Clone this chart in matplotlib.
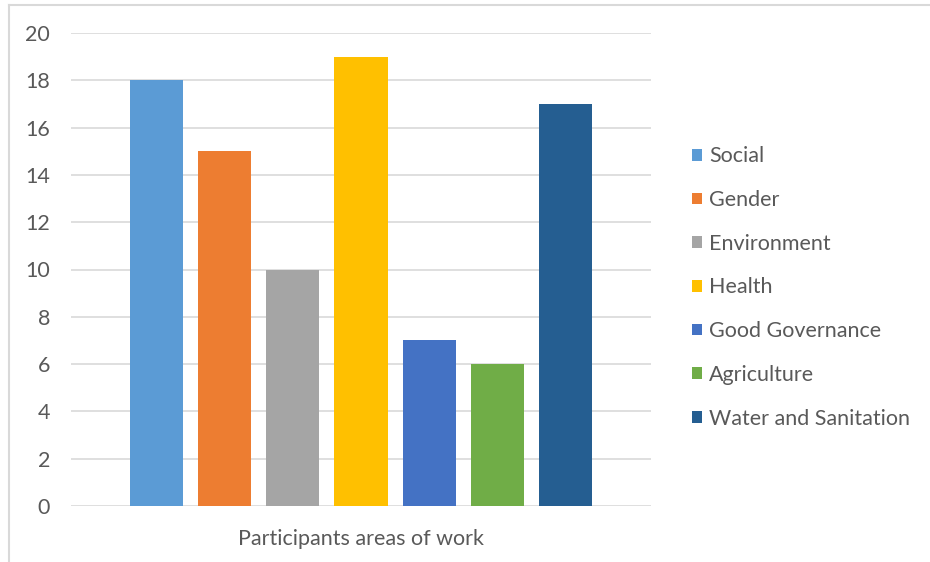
import matplotlib
matplotlib.use("Agg")
import matplotlib.pyplot as plt
from matplotlib.lines import Line2D

# data
categories = ["Social", "Gender", "Environment", "Health",
              "Good Governance", "Agriculture", "Water and Sanitation"]
counts = [18, 15, 10, 19, 7, 6, 17]
colors = ["#5B9BD5", "#ED7D31", "#A5A5A5", "#FFC000",
          "#4472C4", "#70AD47", "#255E91"]
yticks = [0, 2, 4, 6, 8, 10, 12, 14, 16, 18, 20]

plt.rcParams['font.family'] = ['Lato', 'DejaVu Sans']
text_col = "#595959"
fs = 15.5

fig = plt.figure(figsize=(9.3, 5.62), dpi=100)
ax = fig.add_axes([71/930, 1 - 506/562, 580/930, 473/562])

xpos = list(range(len(categories)))
for i in xpos:
    ax.bar(i, counts[i], width=0.78, color=colors[i], label=categories[i], zorder=3)

ax.set_xlim(-1.257, len(categories) - 1 + 1.257)
ax.set_ylim(0, 20)
ax.set_yticks(yticks)
ax.set_yticklabels([str(v) for v in yticks], fontsize=fs, color=text_col)
ax.tick_params(axis='y', length=0, pad=15)
ax.set_xticks([])
ax.grid(axis='y', color="#D9D9D9", linewidth=1.2, zorder=0)
for s in ax.spines.values():
    s.set_visible(False)
ax.set_xlabel("Participants areas of work", fontsize=fs, color=text_col, labelpad=16.5)

leg = ax.legend(loc='center left', bbox_to_anchor=(1.0555, 0.462), frameon=False,
                fontsize=fs, handlelength=0.47, handleheight=0.47,
                handletextpad=0.33, labelspacing=1.10, borderaxespad=0)
for t in leg.get_texts():
    t.set_color(text_col)

# outer frame of the chart (top and left edges visible)
fig.add_artist(Line2D([8.5/930, 1], [1 - 5/562, 1 - 5/562], transform=fig.transFigure,
                      color="#D9D9D9", linewidth=1.5))
fig.add_artist(Line2D([8.5/930, 8.5/930], [0, 1 - 5/562], transform=fig.transFigure,
                      color="#D9D9D9", linewidth=1.5))

fig.savefig("out.png", dpi=100)
